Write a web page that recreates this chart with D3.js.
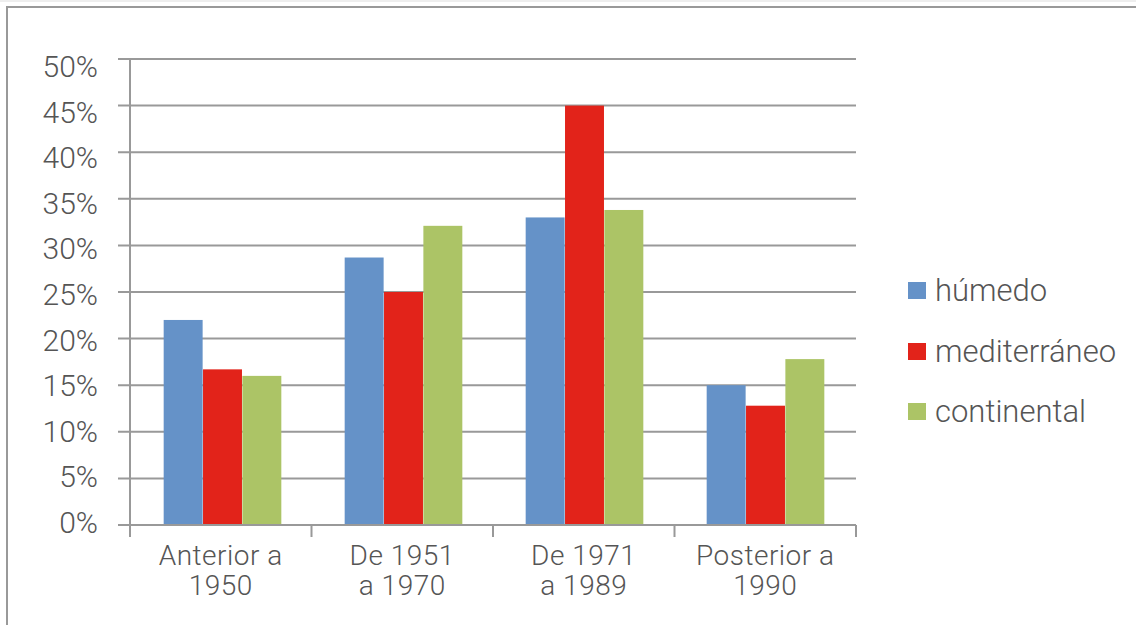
<!DOCTYPE html>
<html>
<head>
<meta charset="utf-8">
<script src="https://cdn.jsdelivr.net/npm/d3@7"></script>
<style>
  body { margin: 0; background: #fff; }
  text { font-family: Roboto, "DejaVu Sans", sans-serif; font-weight: 300; fill: #555; }
</style>
</head>
<body>
<div id="chart"></div>
<script>
// data
var categories = [["Anterior a", "1950"], ["De 1951", "a 1970"], ["De 1971", "a 1989"], ["Posterior a", "1990"]];
var seriesNames = ["húmedo", "mediterráneo", "continental"];
var humedo = [22, 28.7, 33, 15];
var mediterraneo = [16.7, 25, 45, 12.8];
var continental = [16, 32.1, 33.8, 17.8];
var yTicks = [0, 5, 10, 15, 20, 25, 30, 35, 40, 45, 50];
var colors = ["#6592c8", "#e2231a", "#acc466"];

var values = [humedo, mediterraneo, continental];

var W = 1136, H = 625;
var svg = d3.select("#chart").append("svg")
  .attr("width", W).attr("height", H);

// outer frame
svg.append("rect").attr("x", 0).attr("y", 0).attr("width", W).attr("height", 2).attr("fill", "#eee");
svg.append("path")
  .attr("d", "M7," + H + "V7H" + W)
  .attr("fill", "none").attr("stroke", "#999").attr("stroke-width", 2);

var plotLeft = 130, plotRight = 856, plotTop = 59, plotBottom = 525;

var x0 = d3.scaleBand()
  .domain(d3.range(categories.length))
  .range([plotLeft + 2, plotRight])
  .paddingInner(0.35)
  .paddingOuter(0.175);

var x1 = d3.scaleBand()
  .domain(d3.range(seriesNames.length))
  .range([0, x0.bandwidth()])
  .paddingInner(0.01);

var y = d3.scaleLinear().domain([0, 50]).range([plotBottom, plotTop]);
// the tick labels sit a little tighter than the grid in the original
var yLabel = d3.scaleLinear().domain([0, 50]).range([522, 66]);

// grid lines
svg.append("g").selectAll("line")
  .data(yTicks)
  .enter().append("line")
    .attr("x1", plotLeft - 12).attr("x2", plotRight)
    .attr("y1", function(d) { return y(d); })
    .attr("y2", function(d) { return y(d); })
    .attr("stroke", "#999").attr("stroke-width", 2);

// y labels
svg.append("g").selectAll("text")
  .data(yTicks)
  .enter().append("text")
    .attr("x", 98)
    .attr("y", function(d) { return yLabel(d) + 11; })
    .attr("text-anchor", "end")
    .attr("font-size", 30)
    .text(function(d) { return d + "%"; });

// bars
svg.append("g").selectAll("g")
  .data(values)
  .enter().append("g")
    .attr("fill", function(d, i) { return colors[i]; })
    .each(function(series, si) {
      d3.select(this).selectAll("rect")
        .data(series)
        .enter().append("rect")
          .attr("x", function(d, ci) { return x0(ci) + x1(si); })
          .attr("y", function(d) { return y(d); })
          .attr("width", x1.bandwidth())
          .attr("height", function(d) { return y(0) - y(d); });
    });

// axes lines
var axisColor = "#999";
svg.append("line").attr("x1", plotLeft).attr("x2", plotLeft).attr("y1", plotTop).attr("y2", plotBottom + 12)
  .attr("stroke", axisColor).attr("stroke-width", 2);
svg.append("line").attr("x1", plotLeft).attr("x2", plotRight).attr("y1", plotBottom).attr("y2", plotBottom)
  .attr("stroke", axisColor).attr("stroke-width", 2);
var boundaries = d3.range(categories.length + 1).map(function(i) {
  return plotLeft + i * (plotRight - plotLeft) / categories.length;
});
svg.append("g").selectAll("line")
  .data(boundaries)
  .enter().append("line")
    .attr("x1", function(d) { return d; }).attr("x2", function(d) { return d; })
    .attr("y1", plotBottom).attr("y2", plotBottom + 12)
    .attr("stroke", axisColor).attr("stroke-width", 2);

// category labels
svg.append("g").selectAll("text")
  .data(categories)
  .enter().append("text")
    .attr("x", function(d, i) { return (boundaries[i] + boundaries[i + 1]) / 2; })
    .attr("y", 565)
    .attr("text-anchor", "middle")
    .attr("font-size", 28)
    .attr("letter-spacing", 0.5)
    .each(function(d) {
      var t = d3.select(this);
      t.append("tspan").attr("x", t.attr("x")).attr("dy", 0).text(d[0]);
      t.append("tspan").attr("x", t.attr("x")).attr("dy", 30).text(d[1]);
    });

// legend
var legendTop = [282, 343, 403];
var legend = svg.append("g").selectAll("g")
  .data(seriesNames)
  .enter().append("g")
    .attr("transform", function(d, i) { return "translate(908," + legendTop[i] + ")"; });
legend.append("rect")
  .attr("x", 0).attr("y", 0).attr("width", 18).attr("height", 17)
  .attr("fill", function(d, i) { return colors[i]; });
legend.append("text")
  .attr("x", 27).attr("y", 19)
  .attr("font-size", 31)
  .text(function(d) { return d; });
</script>
</body>
</html>
